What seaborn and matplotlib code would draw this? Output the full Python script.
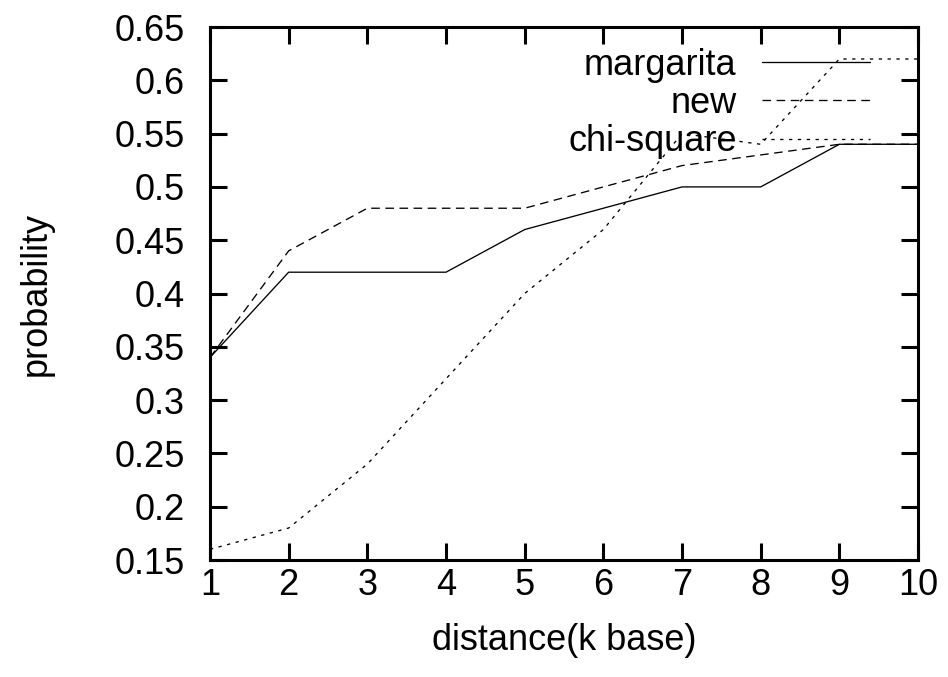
import matplotlib
matplotlib.use("Agg")
import matplotlib.pyplot as plt
import matplotlib.ticker as mticker
import pandas as pd
import seaborn as sns

# values
distance = [1, 2, 3, 4, 5, 6, 7, 8, 9, 10]
margarita = [0.34, 0.42, 0.42, 0.42, 0.46, 0.48, 0.50, 0.50, 0.54, 0.54]
new = [0.34, 0.44, 0.48, 0.48, 0.48, 0.50, 0.52, 0.53, 0.54, 0.54]
chi_square = [0.16, 0.18, 0.24, 0.32, 0.40, 0.46, 0.55, 0.54, 0.62, 0.62]
series_names = ["margarita", "new", "chi-square"]
y_ticks = [0.15, 0.2, 0.25, 0.3, 0.35, 0.4, 0.45, 0.5, 0.55, 0.6, 0.65]

df = pd.DataFrame({
    "distance": distance * 3,
    "probability": margarita + new + chi_square,
    "method": [n for n in series_names for _ in distance],
})

sns.set_style("ticks")
plt.rcParams["font.family"] = ["Liberation Sans", "DejaVu Sans"]
for key in ["text.color", "axes.labelcolor", "xtick.color", "ytick.color"]:
    plt.rcParams[key] = "black"

fs = 26
fig, ax = plt.subplots(figsize=(9.48, 6.77), dpi=100)
fig.subplots_adjust(left=0.2215, right=0.9684, top=0.9601, bottom=0.1728)

lw = 0.95
dash_styles = {
    "margarita": "",
    "new": (6.5, 4.2),
    "chi-square": (2.5, 4.2),
}
sns.lineplot(data=df, x="distance", y="probability", style="method",
             style_order=series_names, dashes=dash_styles, color="black",
             linewidth=lw, ax=ax, legend=True)

ax.set_xlim(1, 10)
ax.set_ylim(0.15, 0.65)
ax.set_xticks(distance)
ax.set_yticks(y_ticks)
ax.yaxis.set_major_formatter(mticker.FormatStrFormatter("%g"))

ax.set_xlabel("distance(k base)", fontsize=fs, labelpad=14)
ax.set_ylabel("probability", fontsize=fs, labelpad=44)

for side in ["left", "right", "top", "bottom"]:
    ax.spines[side].set_visible(True)
    ax.spines[side].set_linewidth(2.2)
    ax.spines[side].set_color("black")
ax.tick_params(axis="both", which="major", direction="in", length=12,
               width=2.2, labelsize=fs, top=True, right=True, color="black")
ax.tick_params(axis="y", pad=18)
ax.tick_params(axis="x", pad=6)

handles, labels = ax.get_legend_handles_labels()
ax.legend(handles[-3:], labels[-3:], loc="upper right",
          bbox_to_anchor=(0.932, 0.961), frameon=False, fontsize=fs,
          markerfirst=False, handlelength=3.0, handletextpad=0.69,
          labelspacing=0.09, borderpad=0, borderaxespad=0)

fig.savefig("out.png", dpi=100)
